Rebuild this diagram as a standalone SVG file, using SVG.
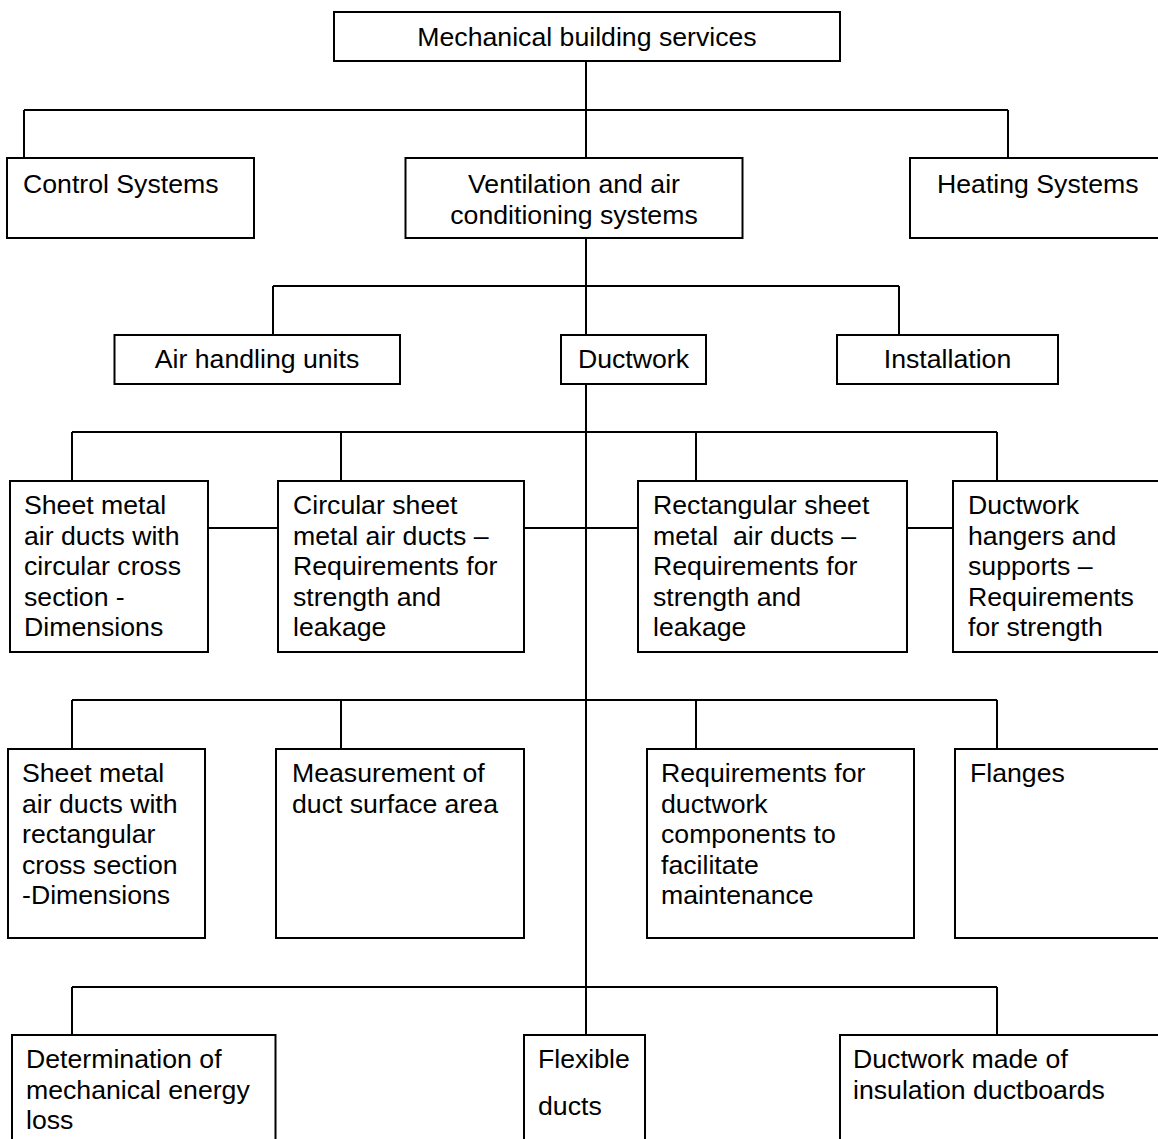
<svg xmlns="http://www.w3.org/2000/svg" width="1158" height="1139" viewBox="0 0 1158 1139">
<style>
rect{fill:#fff;stroke:#000;stroke-width:2}
#connectors path{fill:none;stroke:#000;stroke-width:2}
text{font-family:"Liberation Sans",Arial,sans-serif;font-size:26.67px;fill:#000}
.c{text-anchor:middle}
.pre{white-space:pre}
</style>
<rect x="0" y="0" width="1158" height="1139" style="fill:#fff;stroke:none"/>
<g id="connectors">
<path d="M586 61V110M24 110H1008M24 110V158M586 110V158M1008 110V158"/>
<path d="M586 238V286M273 286H899M273 286V335M586 286V335M899 286V335"/>
<path d="M586 384V1035"/>
<path d="M72 432H997M72 432V481M341 432V481M696 432V481M997 432V481"/>
<path d="M208 528H278M524 528H638M907 528H953"/>
<path d="M72 700H997M72 700V749M341 700V749M696 700V749M997 700V749"/>
<path d="M72 987H997M72 987V1035M997 987V1035"/>
</g>
<g id="n-mbs"><rect x="334" y="12" width="506" height="49"/><text class="c" x="587" y="45.5">Mechanical building services</text></g>
<g id="n-control"><rect x="7" y="158" width="247" height="80"/><text x="23" y="193">Control Systems</text></g>
<g id="n-vent"><rect x="405.5" y="158" width="337" height="80"/><text class="c" x="574"><tspan x="574" y="193">Ventilation and air</tspan><tspan x="574" y="223.6">conditioning systems</tspan></text></g>
<g id="n-heating"><rect x="910" y="158" width="260" height="80"/><text x="937" y="193">Heating Systems</text></g>
<g id="n-ahu"><rect x="114.5" y="335" width="285.5" height="49"/><text class="c" x="257" y="368">Air handling units</text></g>
<g id="n-ductwork"><rect x="561" y="335" width="145" height="49"/><text class="c" x="633.5" y="368">Ductwork</text></g>
<g id="n-install"><rect x="837" y="335" width="221" height="49"/><text class="c" x="947.5" y="368">Installation</text></g>
<g id="n-r4a"><rect x="10" y="481" width="198" height="171"/><text><tspan x="24" y="514">Sheet metal</tspan><tspan x="24" y="544.6">air ducts with</tspan><tspan x="24" y="575.2">circular cross</tspan><tspan x="24" y="605.8">section -</tspan><tspan x="24" y="636.4">Dimensions</tspan></text></g>
<g id="n-r4b"><rect x="278" y="481" width="246" height="171"/><text><tspan x="293" y="514">Circular sheet</tspan><tspan x="293" y="544.6">metal air ducts –</tspan><tspan x="293" y="575.2">Requirements for</tspan><tspan x="293" y="605.8">strength and</tspan><tspan x="293" y="636.4">leakage</tspan></text></g>
<g id="n-r4c"><rect x="638" y="481" width="269" height="171"/><text class="pre"><tspan x="653" y="514">Rectangular sheet</tspan><tspan x="653" y="544.6">metal  air ducts –</tspan><tspan x="653" y="575.2">Requirements for</tspan><tspan x="653" y="605.8">strength and</tspan><tspan x="653" y="636.4">leakage</tspan></text></g>
<g id="n-r4d"><rect x="953" y="481" width="220" height="171"/><text><tspan x="968" y="514">Ductwork</tspan><tspan x="968" y="544.6">hangers and</tspan><tspan x="968" y="575.2">supports –</tspan><tspan x="968" y="605.8">Requirements</tspan><tspan x="968" y="636.4">for strength</tspan></text></g>
<g id="n-r5a"><rect x="8" y="749" width="197" height="189"/><text><tspan x="22" y="782">Sheet metal</tspan><tspan x="22" y="812.6">air ducts with</tspan><tspan x="22" y="843.2">rectangular</tspan><tspan x="22" y="873.8">cross section</tspan><tspan x="22" y="904.4">-Dimensions</tspan></text></g>
<g id="n-r5b"><rect x="276" y="749" width="248" height="189"/><text><tspan x="292" y="782">Measurement of</tspan><tspan x="292" y="812.6">duct surface area</tspan></text></g>
<g id="n-r5c"><rect x="647" y="749" width="267" height="189"/><text><tspan x="661" y="782">Requirements for</tspan><tspan x="661" y="812.6">ductwork</tspan><tspan x="661" y="843.2">components to</tspan><tspan x="661" y="873.8">facilitate</tspan><tspan x="661" y="904.4">maintenance</tspan></text></g>
<g id="n-r5d"><rect x="955" y="749" width="220" height="189"/><text x="970" y="782">Flanges</text></g>
<g id="n-r6a"><rect x="12" y="1035" width="263.5" height="130"/><text><tspan x="26" y="1068">Determination of</tspan><tspan x="26" y="1098.6">mechanical energy</tspan><tspan x="26" y="1129.2">loss</tspan></text></g>
<g id="n-r6b"><rect x="524" y="1035" width="121" height="130"/><text><tspan x="538" y="1068">Flexible</tspan><tspan x="538" y="1115">ducts</tspan></text></g>
<g id="n-r6c"><rect x="840" y="1035" width="330" height="130"/><text><tspan x="853" y="1068">Ductwork made of</tspan><tspan x="853" y="1098.6">insulation ductboards</tspan></text></g>
</svg>
